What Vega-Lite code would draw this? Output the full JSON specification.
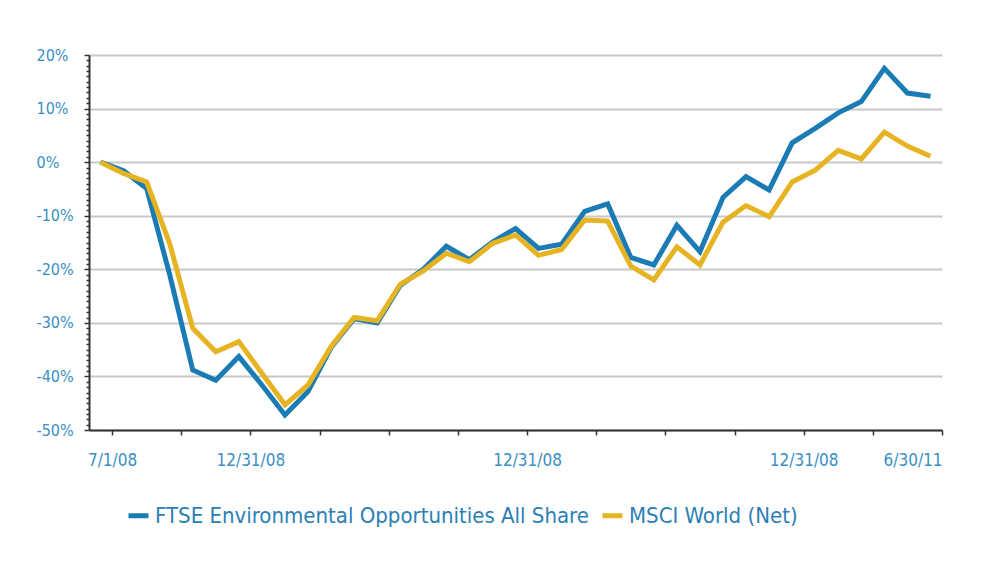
{
  "$schema": "https://vega.github.io/schema/vega-lite/v6.json",
  "width": 853,
  "height": 375,
  "autosize": {"type": "none"},
  "padding": {"left": 89, "top": 55, "right": 49, "bottom": 140},
  "background": "white",
  "config": {
    "font": "DejaVu Sans Condensed, Liberation Sans Narrow, sans-serif",
    "view": {"stroke": null}
  },
  "data": {
    "values": [
      {"month": 0, "series": "FTSE Environmental Opportunities All Share", "value": 0},
      {"month": 1, "series": "FTSE Environmental Opportunities All Share", "value": -1.6},
      {"month": 2, "series": "FTSE Environmental Opportunities All Share", "value": -4.9},
      {"month": 3, "series": "FTSE Environmental Opportunities All Share", "value": -21},
      {"month": 4, "series": "FTSE Environmental Opportunities All Share", "value": -38.8},
      {"month": 5, "series": "FTSE Environmental Opportunities All Share", "value": -40.7},
      {"month": 6, "series": "FTSE Environmental Opportunities All Share", "value": -36.3},
      {"month": 7, "series": "FTSE Environmental Opportunities All Share", "value": -41.6},
      {"month": 8, "series": "FTSE Environmental Opportunities All Share", "value": -47.2},
      {"month": 9, "series": "FTSE Environmental Opportunities All Share", "value": -42.8},
      {"month": 10, "series": "FTSE Environmental Opportunities All Share", "value": -34.6},
      {"month": 11, "series": "FTSE Environmental Opportunities All Share", "value": -29.2},
      {"month": 12, "series": "FTSE Environmental Opportunities All Share", "value": -30},
      {"month": 13, "series": "FTSE Environmental Opportunities All Share", "value": -23},
      {"month": 14, "series": "FTSE Environmental Opportunities All Share", "value": -20},
      {"month": 15, "series": "FTSE Environmental Opportunities All Share", "value": -15.7},
      {"month": 16, "series": "FTSE Environmental Opportunities All Share", "value": -18.2},
      {"month": 17, "series": "FTSE Environmental Opportunities All Share", "value": -14.9},
      {"month": 18, "series": "FTSE Environmental Opportunities All Share", "value": -12.4},
      {"month": 19, "series": "FTSE Environmental Opportunities All Share", "value": -16.1},
      {"month": 20, "series": "FTSE Environmental Opportunities All Share", "value": -15.3},
      {"month": 21, "series": "FTSE Environmental Opportunities All Share", "value": -9.2},
      {"month": 22, "series": "FTSE Environmental Opportunities All Share", "value": -7.8},
      {"month": 23, "series": "FTSE Environmental Opportunities All Share", "value": -17.8},
      {"month": 24, "series": "FTSE Environmental Opportunities All Share", "value": -19.2},
      {"month": 25, "series": "FTSE Environmental Opportunities All Share", "value": -11.8},
      {"month": 26, "series": "FTSE Environmental Opportunities All Share", "value": -16.7},
      {"month": 27, "series": "FTSE Environmental Opportunities All Share", "value": -6.6},
      {"month": 28, "series": "FTSE Environmental Opportunities All Share", "value": -2.7},
      {"month": 29, "series": "FTSE Environmental Opportunities All Share", "value": -5.2},
      {"month": 30, "series": "FTSE Environmental Opportunities All Share", "value": 3.6},
      {"month": 31, "series": "FTSE Environmental Opportunities All Share", "value": 6.3},
      {"month": 32, "series": "FTSE Environmental Opportunities All Share", "value": 9.2},
      {"month": 33, "series": "FTSE Environmental Opportunities All Share", "value": 11.3},
      {"month": 34, "series": "FTSE Environmental Opportunities All Share", "value": 17.5},
      {"month": 35, "series": "FTSE Environmental Opportunities All Share", "value": 12.9},
      {"month": 36, "series": "FTSE Environmental Opportunities All Share", "value": 12.3},
      {"month": 0, "series": "MSCI World (Net)", "value": 0},
      {"month": 1, "series": "MSCI World (Net)", "value": -2.1},
      {"month": 2, "series": "MSCI World (Net)", "value": -3.7},
      {"month": 3, "series": "MSCI World (Net)", "value": -15.2},
      {"month": 4, "series": "MSCI World (Net)", "value": -31},
      {"month": 5, "series": "MSCI World (Net)", "value": -35.4},
      {"month": 6, "series": "MSCI World (Net)", "value": -33.5},
      {"month": 7, "series": "MSCI World (Net)", "value": -39.4},
      {"month": 8, "series": "MSCI World (Net)", "value": -45.3},
      {"month": 9, "series": "MSCI World (Net)", "value": -41.6},
      {"month": 10, "series": "MSCI World (Net)", "value": -34.4},
      {"month": 11, "series": "MSCI World (Net)", "value": -29},
      {"month": 12, "series": "MSCI World (Net)", "value": -29.6},
      {"month": 13, "series": "MSCI World (Net)", "value": -22.8},
      {"month": 14, "series": "MSCI World (Net)", "value": -20.3},
      {"month": 15, "series": "MSCI World (Net)", "value": -17},
      {"month": 16, "series": "MSCI World (Net)", "value": -18.6},
      {"month": 17, "series": "MSCI World (Net)", "value": -15.2},
      {"month": 18, "series": "MSCI World (Net)", "value": -13.6},
      {"month": 19, "series": "MSCI World (Net)", "value": -17.4},
      {"month": 20, "series": "MSCI World (Net)", "value": -16.3},
      {"month": 21, "series": "MSCI World (Net)", "value": -10.8},
      {"month": 22, "series": "MSCI World (Net)", "value": -11},
      {"month": 23, "series": "MSCI World (Net)", "value": -19.4},
      {"month": 24, "series": "MSCI World (Net)", "value": -22},
      {"month": 25, "series": "MSCI World (Net)", "value": -15.8},
      {"month": 26, "series": "MSCI World (Net)", "value": -19.2},
      {"month": 27, "series": "MSCI World (Net)", "value": -11.2},
      {"month": 28, "series": "MSCI World (Net)", "value": -8.1},
      {"month": 29, "series": "MSCI World (Net)", "value": -10.2},
      {"month": 30, "series": "MSCI World (Net)", "value": -3.7},
      {"month": 31, "series": "MSCI World (Net)", "value": -1.5},
      {"month": 32, "series": "MSCI World (Net)", "value": 2.2},
      {"month": 33, "series": "MSCI World (Net)", "value": 0.6},
      {"month": 34, "series": "MSCI World (Net)", "value": 5.6},
      {"month": 35, "series": "MSCI World (Net)", "value": 3.0},
      {"month": 36, "series": "MSCI World (Net)", "value": 1.1}
    ]
  },
  "mark": {"type": "line", "strokeWidth": 5, "strokeJoin": "miter"},
  "encoding": {
    "x": {
      "field": "month",
      "type": "quantitative",
      "scale": {"domain": [-0.5, 36.5], "nice": false, "zero": false},
      "axis": {
        "title": null,
        "values": [0.5, 3.5, 6.5, 9.5, 12.5, 15.5, 18.5, 21.5, 24.5, 27.5, 30.5, 33.5, 36.5],
        "labelExpr": "datum.value == 0.5 ? '7/1/08' : (datum.value == 6.5 || datum.value == 18.5 || datum.value == 30.5) ? '12/31/08' : datum.value == 36.5 ? '6/30/11' : ''",
        "labelAlign": {"condition": {"test": "datum.value == 36.5", "value": "right"}, "value": "center"},
        "grid": false,
        "domainColor": "#333333",
        "domainWidth": 2,
        "tickColor": "#333333",
        "tickSize": 5,
        "tickWidth": 1.5,
        "labelColor": "#3a8fc4",
        "labelFontSize": 17,
        "labelPadding": 17,
        "labelFlush": false,
        "labelOverlap": false
      }
    },
    "y": {
      "field": "value",
      "type": "quantitative",
      "scale": {"domain": [-50, 20], "nice": false},
      "axis": {
        "title": null,
        "values": [-50, -49, -48, -47, -46, -45, -44, -43, -42, -41, -40, -39, -38, -37, -36, -35, -34, -33, -32, -31, -30, -29, -28, -27, -26, -25, -24, -23, -22, -21, -20, -19, -18, -17, -16, -15, -14, -13, -12, -11, -10, -9, -8, -7, -6, -5, -4, -3, -2, -1, 0, 1, 2, 3, 4, 5, 6, 7, 8, 9, 10, 11, 12, 13, 14, 15, 16, 17, 18, 19, 20],
        "labelExpr": "datum.value % 10 == 0 ? datum.value + '%' : ''",
        "labelAlign": "left",
        "labelPadding": 48,
        "labelColor": "#3a8fc4",
        "labelFontSize": 16,
        "labelOverlap": false,
        "labelFlush": false,
        "domainColor": "#333333",
        "domainWidth": 2,
        "tickColor": "#333333",
        "tickSize": {"condition": {"test": "datum.value % 10 == 0", "value": 5}, "value": 3},
        "tickWidth": 1.5,
        "grid": true,
        "gridColor": "#c8c8c8",
        "gridWidth": 2,
        "gridOpacity": {"condition": {"test": "datum.value % 10 == 0", "value": 1}, "value": 0}
      }
    },
    "color": {
      "field": "series",
      "type": "nominal",
      "scale": {
        "domain": ["FTSE Environmental Opportunities All Share", "MSCI World (Net)"],
        "range": ["#1a7bb5", "#e6b423"]
      },
      "legend": {
        "title": null,
        "orient": "none",
        "direction": "horizontal",
        "legendX": 37,
        "legendY": 448,
        "symbolType": "stroke",
        "symbolSize": 400,
        "symbolStrokeWidth": 5,
        "labelFontSize": 22,
        "labelColor": "#2a80b5",
        "labelLimit": 600,
        "labelOffset": 4,
        "columnPadding": 3
      }
    }
  }
}
